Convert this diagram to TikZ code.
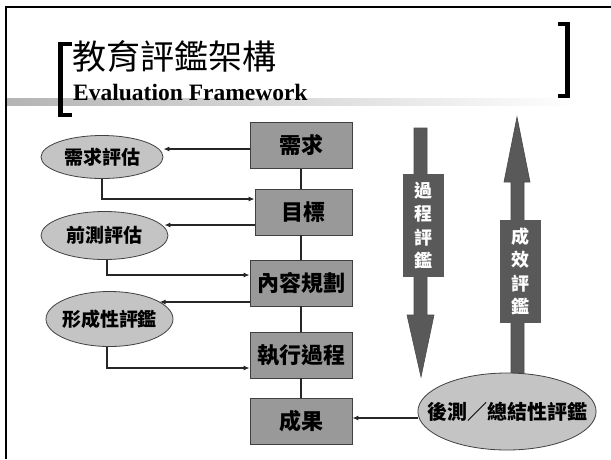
\documentclass[tikz,border=0pt]{standalone}
\usepackage{fontspec}
\setmainfont{Liberation Serif}
\newfontfamily\cjk{Noto Sans CJK TC}
\usetikzlibrary{arrows.meta,shapes.geometric,calc}
\definecolor{boxgray}{HTML}{999999}
\definecolor{ellgray}{HTML}{C4C4C4}
\definecolor{darkg}{HTML}{595959}
\definecolor{bandgray}{HTML}{B4B4B4}
\tikzset{
  box/.style={draw=black!75, line width=0.8pt, fill=boxgray, minimum width=102pt,
    minimum height=46pt, inner sep=0pt, font=\cjk\bfseries\fontsize{22}{24}\selectfont},
  ell/.style={ellipse, draw=black!75, line width=0.8pt, fill=ellgray, inner sep=0pt,
    font=\cjk\bfseries\fontsize{19}{21}\selectfont},
  conn/.style={line width=1.4pt, draw=black!85},
  arr/.style={conn, -{Latex[length=6pt,width=5pt]}},
  bigarrow/.style={fill=darkg, draw=black!70, line width=0.6pt},
  lab/.style={fill=darkg, inner sep=0pt, minimum width=41pt, minimum height=103pt,
    text=white, align=center, font=\cjk\bfseries\fontsize{18}{23.5}\selectfont},
}
\begin{document}
\begin{tikzpicture}[x=1pt,y=-1pt]
\useasboundingbox (0,0) rectangle (611,459);
\fill[white] (0,0) rectangle (611,459);
% frame
\draw[line width=2pt] (6,459) -- (6,7) -- (611,7);
% title band
\shade[left color=bandgray, right color=white] (7,98) rectangle (578,105);
% brackets
\draw[line width=4.5pt, line join=miter] (72,44) -- (60.5,44) -- (60.5,115) -- (72,115);
\draw[line width=4.5pt, line join=miter] (558,24) -- (567.5,24) -- (567.5,96) -- (558,96);
% titles
\node[anchor=base west, inner sep=0pt, font=\cjk\fontsize{34}{36}\selectfont] (t1) at (72,69) {教育評鑑架構};
\node[anchor=base west, inner sep=0pt, font=\bfseries\fontsize{23.5}{25}\selectfont] (t2) at (73,100) {Evaluation Framework};

% big arrows
\filldraw[bigarrow] (414,128) -- (427,128) -- (427,315) -- (434,315) -- (421,377) -- (407,315) -- (414,315) -- cycle;
\filldraw[bigarrow] (517,117) -- (530,182) -- (524,182) -- (524,375) -- (511,375) -- (511,182) -- (504,182) -- cycle;
\node[lab] (pl) at (423.5,225.5) {過\\程\\評\\鑑};
\node[lab] (ol) at (520.5,271.5) {成\\效\\評\\鑑};

% boxes
\node[box] (n1) at (301,145.5) {需求};
\node[box, minimum width=97pt] (n2) at (303.5,212) {目標};
\node[box] (n3) at (301,283) {內容規劃};
\node[box] (n4) at (301,355) {執行過程};
\node[box] (n5) at (301,421) {成果};

% ellipses
\node[ell, minimum width=122pt, minimum height=43pt] (e1) at (102,157) {需求評估};
\node[ell, minimum width=127pt, minimum height=48pt] (e2) at (104.5,235.5) {前測評估};
\node[ell, inner xsep=-3pt, minimum width=127pt, minimum height=55pt] (e3) at (109.5,319) {形成性評鑑};
\node[ell, inner xsep=-17pt, minimum width=178pt, minimum height=77pt, font=\cjk\bfseries\fontsize{20}{22}\selectfont] (e4) at (507,411.5) {後測／總結性評鑑};

% vertical links between boxes
\draw[conn] (n1.south) -- (n1.south |- n2.north);
\draw[conn] (n2.south -| n1.south) -- (n1.south |- n3.north);
\draw[conn] (n3.south) -- (n4.north);
\draw[conn] (n4.south) -- (n5.north);

% box -> ellipse arrows
\coordinate (a1) at ([yshift=-3.5pt]n1.west);
\draw[arr] (a1) -- (a1 -| e1.east);
\coordinate (a2) at ([yshift=-13pt]n2.west);
\draw[arr] (a2) -- (a2 -| e2.8);
\coordinate (a3) at ([yshift=-19pt]n3.west);
\draw[arr] (a3) -- (a3 -| e3.19);

% ellipse -> box arrows
\coordinate (b2) at ([yshift=13pt]n2.west);
\draw[arr] (e1.south) |- (b2);
\coordinate (b3) at ([yshift=8pt]n3.west);
\draw[arr] ([xshift=2.5pt]e2.south) |- (b3);
\coordinate (b4) at ([yshift=-13pt]n4.west);
\draw[arr] ([xshift=-2.5pt]e3.south) |- (b4);
\coordinate (b5) at ([yshift=3pt]n5.east);
\draw[arr] (b5 -| e4.west) -- (b5);
\end{tikzpicture}
\end{document}
